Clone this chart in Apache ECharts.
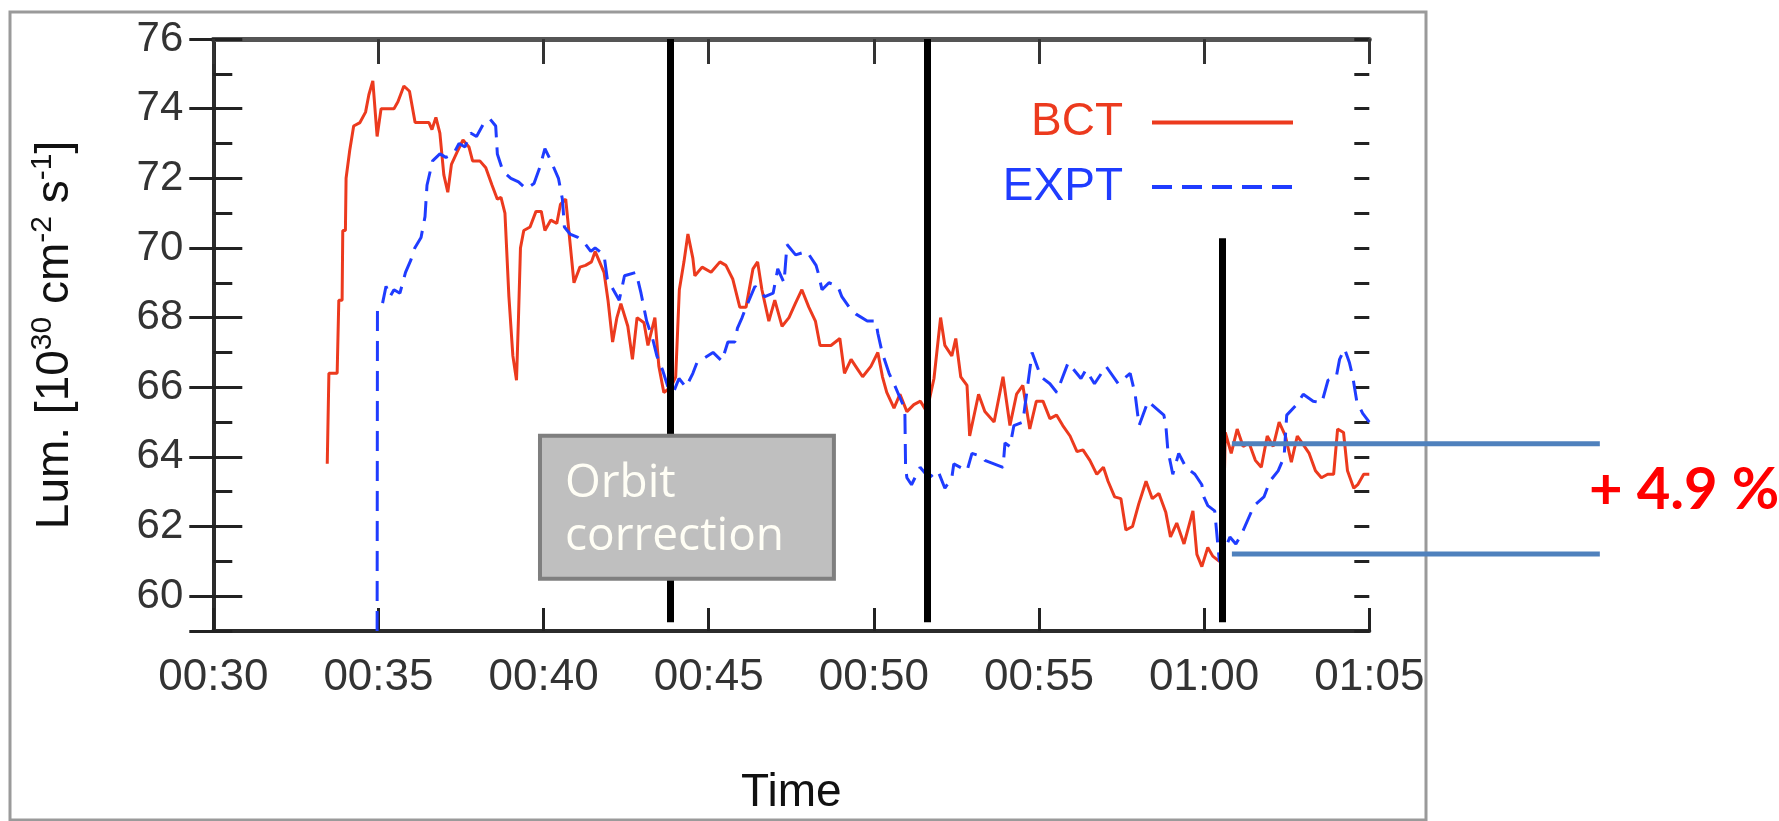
<!DOCTYPE html>
<html><head><meta charset="utf-8">
<script src="https://cdn.jsdelivr.net/npm/echarts@6/dist/echarts.min.js"></script>
<style>html,body{margin:0;padding:0;background:#fff;}#c{width:1779px;height:821px;}</style>
</head><body><div id="c"></div>
<script>
// time in minutes after 00:30, luminosity in 1e30 cm^-2 s^-1
const bct = [[3.45,63.8],[3.50,66.4],[3.75,66.4],[3.80,68.5],[3.90,68.5],[3.92,70.5],[4.00,70.5],[4.02,72.0],[4.13,72.8],[4.25,73.5],[4.44,73.6],[4.61,73.9],[4.71,74.4],[4.83,74.8],[4.96,73.2],[5.08,74.0],[5.23,74.0],[5.47,74.0],[5.59,74.2],[5.77,74.65],[5.94,74.5],[6.11,73.6],[6.29,73.6],[6.53,73.6],[6.62,73.4],[6.74,73.75],[6.86,73.3],[6.98,72.1],[7.10,71.6],[7.21,72.4],[7.38,72.75],[7.56,73.1],[7.74,72.9],[7.85,72.5],[8.07,72.5],[8.25,72.3],[8.44,71.8],[8.60,71.4],[8.71,71.45],[8.83,71.0],[8.95,68.6],[9.07,66.9],[9.18,66.2],[9.24,68.0],[9.30,70.0],[9.40,70.5],[9.59,70.6],[9.77,71.05],[9.93,71.05],[10.04,70.5],[10.22,70.8],[10.40,70.7],[10.51,71.25],[10.67,71.4],[10.92,69.0],[11.10,69.45],[11.27,69.5],[11.45,69.6],[11.56,69.9],[11.83,69.3],[11.95,68.5],[12.09,67.3],[12.22,68.0],[12.34,68.4],[12.55,67.75],[12.69,66.8],[12.83,68.0],[13.04,67.85],[13.16,67.2],[13.37,68.0],[13.49,66.6],[13.64,65.85],[13.85,66.0],[14.00,66.3],[14.11,68.8],[14.25,69.6],[14.37,70.4],[14.52,69.7],[14.58,69.2],[14.80,69.45],[15.07,69.3],[15.34,69.6],[15.52,69.5],[15.73,69.1],[15.94,68.3],[16.13,68.3],[16.34,69.4],[16.48,69.6],[16.61,68.8],[16.82,67.9],[17.00,68.5],[17.22,67.75],[17.43,68.0],[17.62,68.4],[17.82,68.8],[18.03,68.3],[18.23,67.9],[18.37,67.2],[18.70,67.2],[18.97,67.4],[19.11,66.4],[19.31,66.8],[19.52,66.5],[19.66,66.3],[19.91,66.6],[20.12,67.0],[20.26,66.3],[20.39,65.85],[20.61,65.4],[20.79,65.8],[21.00,65.3],[21.21,65.5],[21.41,65.6],[21.60,65.3],[21.82,66.25],[22.02,68.0],[22.15,67.2],[22.36,66.9],[22.48,67.4],[22.63,66.3],[22.82,66.05],[22.90,64.6],[23.17,65.8],[23.36,65.3],[23.64,65.0],[23.91,66.3],[24.12,64.9],[24.32,65.8],[24.51,66.05],[24.72,64.8],[24.92,65.6],[25.12,65.6],[25.33,65.1],[25.53,65.2],[25.72,64.9],[25.94,64.6],[26.15,64.15],[26.33,64.2],[26.54,63.9],[26.75,63.5],[26.95,63.7],[27.09,63.3],[27.29,62.85],[27.48,62.8],[27.63,61.9],[27.83,62.0],[28.02,62.65],[28.24,63.3],[28.43,62.8],[28.63,62.95],[28.84,62.4],[28.98,61.7],[29.17,62.1],[29.39,61.5],[29.66,62.45],[29.78,61.2],[29.93,60.85],[30.11,61.4],[30.26,61.15],[30.46,61.0],[30.56,61.1],[30.64,64.7],[30.82,64.1],[31.00,64.8],[31.18,64.3],[31.36,64.4],[31.55,63.9],[31.73,63.7],[31.91,64.6],[32.09,64.3],[32.27,65.0],[32.46,64.6],[32.64,63.85],[32.82,64.6],[33.00,64.35],[33.18,64.1],[33.37,63.6],[33.55,63.4],[33.74,63.5],[33.92,63.5],[34.04,64.8],[34.22,64.7],[34.34,63.6],[34.53,63.1],[34.65,63.2],[34.83,63.5],[35.00,63.5]];

const expt = [[4.96,59.0],[4.97,68.2],[5.10,68.3],[5.23,68.9],[5.35,68.6],[5.47,68.8],[5.65,68.7],[5.82,69.3],[5.98,69.65],[6.10,70.0],[6.29,70.3],[6.41,70.9],[6.47,71.8],[6.64,72.5],[6.86,72.7],[7.04,72.6],[7.27,72.7],[7.44,73.0],[7.62,72.9],[7.79,73.3],[7.97,73.2],[8.20,73.6],[8.38,73.7],[8.55,73.5],[8.60,72.7],[8.77,72.2],[9.01,72.0],[9.24,71.9],[9.47,71.7],[9.71,71.85],[9.88,72.3],[10.04,72.85],[10.22,72.5],[10.45,72.0],[10.57,71.4],[10.63,70.6],[10.80,70.4],[11.04,70.3],[11.27,70.1],[11.43,69.9],[11.56,70.0],[11.83,69.8],[11.93,69.1],[12.29,68.5],[12.45,69.2],[12.80,69.3],[12.95,68.7],[13.12,67.9],[13.30,67.4],[13.43,66.9],[13.60,66.5],[13.80,65.9],[13.95,65.9],[14.10,66.25],[14.31,66.0],[14.52,66.4],[14.64,66.7],[15.13,67.0],[15.40,66.75],[15.58,67.3],[15.79,67.3],[15.87,67.7],[16.01,68.0],[16.13,68.3],[16.40,68.9],[16.70,68.6],[16.95,68.7],[17.09,69.4],[17.28,69.0],[17.37,70.1],[17.63,69.8],[17.97,69.9],[18.25,69.5],[18.31,69.3],[18.43,68.8],[18.64,69.0],[18.91,68.9],[19.03,68.6],[19.25,68.3],[19.46,68.1],[19.80,67.9],[20.06,67.9],[20.12,67.55],[20.25,67.0],[20.46,66.4],[20.61,66.1],[20.88,65.5],[20.94,65.2],[20.96,63.7],[21.00,63.4],[21.14,63.2],[21.40,63.7],[21.67,63.4],[21.94,63.6],[22.15,63.1],[22.36,63.4],[22.42,63.8],[22.82,63.6],[22.97,64.1],[23.30,64.0],[23.36,63.9],[23.91,63.7],[23.97,64.4],[24.12,64.3],[24.24,64.9],[24.51,65.0],[24.65,66.0],[24.79,67.0],[25.06,66.3],[25.33,66.1],[25.54,65.85],[25.88,66.7],[26.27,66.25],[26.42,66.5],[26.68,66.1],[27.03,66.6],[27.40,66.1],[27.76,66.4],[27.91,65.8],[28.03,64.9],[28.30,65.6],[28.78,65.2],[28.84,64.9],[28.90,64.2],[29.05,63.5],[29.23,64.1],[29.45,63.7],[29.72,63.5],[29.93,63.2],[29.99,62.85],[30.11,62.6],[30.32,62.45],[30.46,61.0],[30.53,61.1],[30.78,61.7],[30.96,61.5],[31.14,61.8],[31.51,62.6],[31.81,62.85],[31.99,63.3],[32.24,63.6],[32.42,64.0],[32.50,65.2],[32.80,65.5],[33.00,65.8],[33.30,65.6],[33.56,65.55],[33.75,66.2],[34.00,66.3],[34.10,66.8],[34.25,67.1],[34.40,66.7],[34.50,66.3],[34.62,65.6],[34.80,65.25],[35.00,65.0]];

const xTickLabels = ['00:30','00:35','00:40','00:45','00:50','00:55','01:00','01:05'];
const eventTimes = [13.85, 21.63, 30.56];   // orbit corrections (minutes after 00:30)
const eventTops = [76, 76, 70.28];
const stepLevels = [64.38, 61.21];          // luminosity before / after last correction
const stepText = '+ 4.9 %';
const boxText = ['Orbit', 'correction'];

const RED = '#ec3a1e', BLUE = '#1f3cff';
const chart = echarts.init(document.getElementById('c'), null, {renderer: 'canvas'});
const FONT = 'Liberation Sans';

const yBase = {type: 'value', min: 59, max: 76, splitLine: {show: false}};
const spine = {show: true, lineStyle: {color: '#2b2b2b', width: 4}};

const option = {
  animation: false,
  backgroundColor: '#fff',
  grid: {left: 213.3, top: 39, right: 409.7, bottom: 183, containLabel: false},
  legend: {
    orient: 'vertical', align: 'right', right: 479, top: 94.5,
    itemWidth: 141, itemHeight: 14, itemGap: 18.5,
    lineStyle: {width: 4},
    itemStyle: {opacity: 0},
    textStyle: {fontSize: 46, fontFamily: FONT, lineHeight: 46, padding: [0, 24, 0, 0]},
    data: [{name: 'BCT', textStyle: {color: RED}}, {name: 'EXPT', textStyle: {color: BLUE}}]
  },
  xAxis: [
    {type: 'value', min: 0, max: 35, interval: 5, position: 'bottom',
     axisLine: spine,
     axisTick: {inside: true, length: 23, lineStyle: {color: '#222', width: 3}},
     axisLabel: {fontSize: 44, fontFamily: FONT, color: '#333', margin: 25,
       formatter: v => xTickLabels[Math.round(v / 5)]},
     splitLine: {show: false},
     name: 'Time', nameLocation: 'middle', nameGap: 139,
     nameTextStyle: {fontSize: 46, fontFamily: FONT, color: '#111'}},
    {type: 'value', min: 0, max: 35, interval: 5, position: 'top',
     axisLine: {show: true, lineStyle: {color: '#555', width: 5}},
     axisTick: {inside: true, length: 25, lineStyle: {color: '#333', width: 3}},
     axisLabel: {show: false}, splitLine: {show: false}}
  ],
  yAxis: [
    Object.assign({}, yBase, {position: 'left', splitNumber: 8, axisLine: spine,
      axisTick: {inside: true, length: 29, lineStyle: {color: '#222', width: 3}},
      axisLabel: {fontSize: 42, fontFamily: FONT, color: '#333', margin: 30, showMinLabel: false},
      name: '{a|Lum. [10}{s|30}{a| cm}{s|-2}{a| s}{s|-1}{a|]}',
      nameLocation: 'middle', nameRotate: 90, nameGap: 130,
      nameTextStyle: {color: '#111', fontFamily: FONT, rich: {
        a: {fontSize: 46, fontFamily: FONT, color: '#111', lineHeight: 56},
        s: {fontSize: 30, fontFamily: FONT, color: '#111', lineHeight: 30, verticalAlign: 'top'}}}}),
    Object.assign({}, yBase, {position: 'right', splitNumber: 8, axisLine: spine,
      axisTick: {inside: true, length: 24, lineStyle: {color: '#222', width: 3}},
      axisLabel: {show: false}}),
    Object.assign({}, yBase, {position: 'left', interval: 1, axisLine: {show: false},
      axisTick: {inside: true, length: 19, lineStyle: {color: '#222', width: 3}},
      axisLabel: {show: false}}),
    Object.assign({}, yBase, {position: 'right', interval: 1, axisLine: {show: false},
      axisTick: {inside: true, length: 15, lineStyle: {color: '#222', width: 3}},
      axisLabel: {show: false}})
  ],
  series: [
    {name: 'BCT', type: 'line', xAxisIndex: 0, yAxisIndex: 0, data: bct,
     showSymbol: false, symbol: 'none', lineStyle: {color: RED, width: 3}, itemStyle: {color: RED},
     markLine: {silent: true, symbol: 'none', animation: false, label: {show: false},
       lineStyle: {color: '#000', width: 7, type: 'solid'},
       data: eventTimes.map((t, i) => [{coord: [t, eventTops[i]]}, {coord: [t, 59.25]}])}},
    {name: 'EXPT', type: 'line', xAxisIndex: 0, yAxisIndex: 0, data: expt,
     showSymbol: false, symbol: 'none', lineStyle: {color: BLUE, width: 3, type: [20, 10]}, itemStyle: {color: BLUE}}
  ]
};
chart.setOption(option);

function px(t, v) { return chart.convertToPixel({seriesIndex: 0}, [t, v]); }
const b0 = px(9.891, 64.61), b1 = px(18.79, 60.50);
const uA = px(30.84, stepLevels[0]), uB = px(41.98, stepLevels[0]);
const lA = px(30.84, stepLevels[1]), lB = px(41.98, stepLevels[1]);
const tp = px(41.65, 63.05);

chart.setOption({graphic: [
  {type: 'rect', z: 50, silent: true, shape: {x: 10, y: 12, width: 1416, height: 808},
   style: {fill: 'none', stroke: '#9a9a9a', lineWidth: 3}},
  {type: 'rect', z: 100, silent: true,
   shape: {x: b0[0], y: b0[1], width: b1[0] - b0[0], height: b1[1] - b0[1]},
   style: {fill: '#bfbfbf', stroke: '#7f7f7f', lineWidth: 4}},
  {type: 'text', z: 101, silent: true, x: b0[0] + 25, y: b0[1] + 48,
   style: {text: boxText[0], fill: '#fffef5', font: '46px "Open Sans"', verticalAlign: 'middle', align: 'left'}},
  {type: 'text', z: 101, silent: true, x: b0[0] + 25, y: b0[1] + 101,
   style: {text: boxText[1], fill: '#fffef5', font: '46px "Open Sans"', verticalAlign: 'middle', align: 'left'}},
  {type: 'line', z: 100, silent: true, shape: {x1: uA[0], y1: uA[1], x2: uB[0], y2: uB[1]},
   style: {stroke: '#4f81bd', lineWidth: 5}},
  {type: 'line', z: 100, silent: true, shape: {x1: lA[0], y1: lA[1], x2: lB[0], y2: lB[1]},
   style: {stroke: '#4f81bd', lineWidth: 5}},
  {type: 'text', z: 101, silent: true, x: tp[0], y: tp[1],
   style: {text: stepText, fill: '#ff0000', font: 'bold 58px Lato', verticalAlign: 'middle', align: 'left'}}
]});
</script></body></html>
